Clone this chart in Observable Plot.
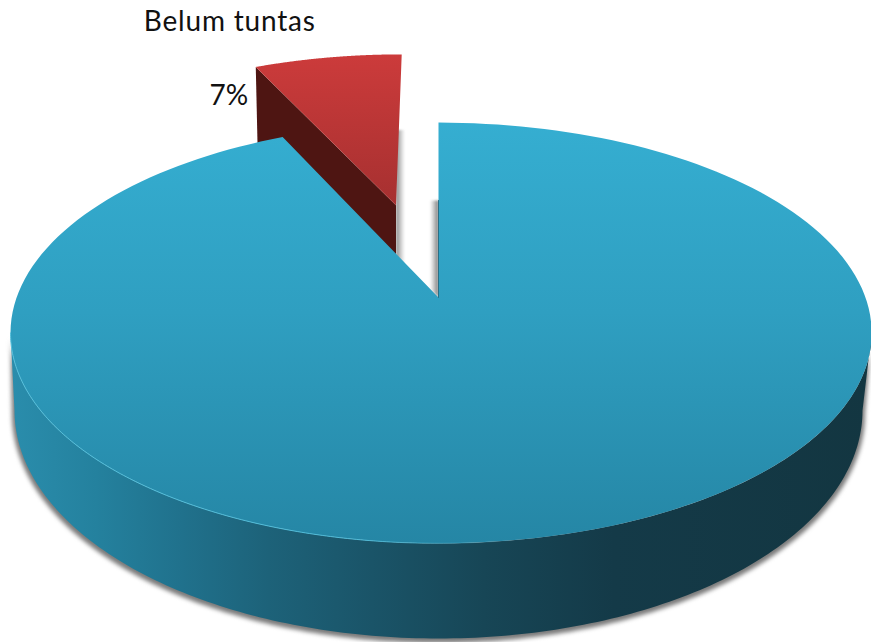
<!DOCTYPE html>
<html>
<head>
<meta charset="utf-8">
<script src="https://cdn.jsdelivr.net/npm/d3@7"></script>
<script src="https://cdn.jsdelivr.net/npm/@observablehq/plot@0.6"></script>
<style>
  html, body { margin: 0; padding: 0; background: #fff; }
  svg { display: block; }
  .soft { filter: blur(2.2px); }
  .softer { filter: blur(0.8px); }
  .wide { letter-spacing: 0.8px; }
</style>
</head>
<body>
<div id="chart"></div>
<script>
const categories = ["Tuntas", "Belum tuntas"];
const percents = [93, 7];
const shownLabel = "Belum tuntas";
const shownValue = "7%";

// Perspective model of the pie, in pie radii
const tilt = 0.1686, squash = 0.482, explode = 0.5;
const project = (X, Y) => {
  const w = 1 + tilt * Y;
  return {x: X * (X > 0 ? 1.007 : 0.995) / w, y: squash * Y / w};
};
const rim = (a, ox = 0, oy = 0) => project(Math.sin(a) + ox, Math.cos(a) + oy);
const arc = (a0, a1, f) => d3.range(0, 181).map(i => f(a0 + (a1 - a0) * i / 180));

const blueSweep = percents[0] / 100 * 2 * Math.PI;
const full = 2 * Math.PI;
const mid = (blueSweep + full) / 2;
const ox = Math.sin(mid) * explode, oy = Math.cos(mid) * explode;

const blueFace = [project(0, 0), ...arc(0, blueSweep, a => rim(a))];
const redApex = project(ox, oy);
const redFace = [redApex, ...arc(blueSweep, full, a => rim(a, ox, oy))];
const redCorner = rim(blueSweep, ox, oy);
const px = 1 / 424;
const redSide = [
  redCorner, redApex,
  {x: redApex.x, y: redApex.y - 49 * px},
  {x: redCorner.x + 2 * px, y: redCorner.y - 88 * px}
];

// lower rim of the wall
const base = {y: -113 * px, ry: 228 * px};
const lower = (a, g = 0, d = 0) => ({x: (1 + g) * Math.sin(a), y: base.y - d + base.ry * Math.cos(a) * (1 + g)});
const aR = Math.acos(-tilt), aL = full - aR;
const wall = [
  ...arc(aR, aL, a => rim(a)).reverse(),
  ...arc(Math.PI / 2, 1.5 * Math.PI, a => lower(a))
];
const wallShadow = [...arc(aR, aL, a => rim(a)).reverse(), ...arc(Math.PI / 2, 1.5 * Math.PI, a => lower(a, 0.006, 3 * px))];
const frontEdge = arc(Math.PI * 0.95, aL, a => rim(a));

// thin shadows seen in the gap between the slices
const origin = project(0, 0);
const redMidY = (rim(full, ox, oy).y + redApex.y) / 2;
const redShadow = [
  {x: redApex.x, y: redMidY},
  {x: redApex.x + 9 * px, y: redMidY},
  {x: redApex.x + 9 * px, y: redApex.y - 62 * px},
  {x: redApex.x, y: redApex.y - 56 * px}
];
const blueShadow = [
  {x: origin.x - 9 * px, y: origin.y + 97 * px},
  {x: origin.x, y: origin.y + 97 * px},
  {x: origin.x, y: origin.y},
  {x: origin.x - 9 * px, y: origin.y + 9 * px}
];
const blueCut = [origin, {x: origin.x, y: origin.y + 97 * px}];

const line = (data, options) => Plot.line(data, {x: "x", y: "y", stroke: "none", curve: "linear", ...options});

function grad(id, horizontal, stops) {
  const g = d3.create("svg:linearGradient").attr("id", id)
    .attr("x1", 0).attr("y1", 0).attr("x2", horizontal ? 1 : 0).attr("y2", horizontal ? 0 : 1);
  for (const [o, c, a] of stops) g.append("stop").attr("offset", o).attr("stop-color", c).attr("stop-opacity", a ?? 1);
  return g.node();
}
const defs = () => {
  const d = d3.create("svg:defs");
  d.append(() => grad("gBlue", false, [[0, "#35aed1"], [0.45, "#2f9fc1"], [1, "#2586a5"]]));
  d.append(() => grad("gRed", false, [[0, "#cc3b3b"], [1, "#a63030"]]));
  d.append(() => grad("gWall", true, [
    [0, "#2a8dac"], [0.1, "#24819e"], [0.2, "#20718c"], [0.3, "#1d6279"],
    [0.42, "#1a5468"], [0.55, "#174656"], [0.7, "#143a48"], [1, "#133641"]
  ]));
  d.append(() => grad("gEdge", true, [[0, "#55c0dc"], [0.7, "#4fbad7"], [1, "#4fbad7", 0]]));
  d.append(() => grad("gShadeR", true, [[0, "#777", 0.9], [1, "#999", 0]]));
  d.append(() => grad("gShadeL", true, [[0, "#999", 0], [1, "#666", 0.9]]));
  return d.node();
};

const chart = Plot.plot({
  width: 871,
  height: 642,
  margin: 0,
  x: {domain: [-438 * px, 433 * px], range: [0, 871], axis: null},
  y: {domain: [-345 * px, 297 * px], range: [642, 0], axis: null},
  style: {background: "#fff"},
  marks: [
    defs,
    line(wallShadow, {fill: "#7a7a7a", className: "soft"}),
    line(redShadow, {fill: "url(#gShadeR)", className: "softer"}),
    line(blueShadow, {fill: "url(#gShadeL)", className: "softer"}),
    line(redSide, {fill: "#4e1512"}),
    line(redFace, {fill: "url(#gRed)"}),
    line(wall, {fill: "url(#gWall)"}),
    line(blueFace, {fill: "url(#gBlue)"}),
    line(blueCut, {stroke: "#2a6f85", strokeWidth: 1}),
    line(frontEdge, {stroke: "url(#gEdge)", strokeWidth: 1}),
    Plot.text([redCorner], {x: "x", y: "y", text: () => shownLabel, dx: -26, dy: -45,
      fontSize: 28, fontFamily: "Lato", fill: "#111", className: "wide"}),
    Plot.text([redCorner], {x: "x", y: "y", text: () => shownValue, dx: -27, dy: 29,
      fontSize: 28, fontFamily: "Lato", fill: "#111"})
  ]
});
document.getElementById("chart").append(chart);
</script>
</body>
</html>
